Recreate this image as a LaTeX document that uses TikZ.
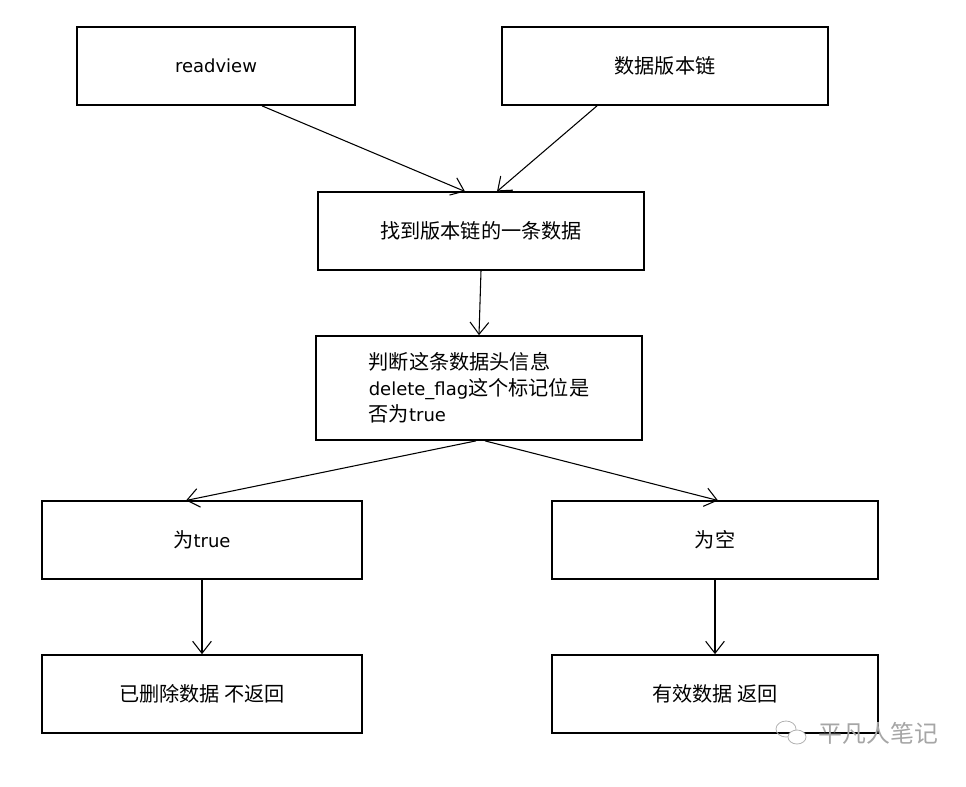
\documentclass[tikz,border=0pt]{standalone}
\usepackage{fontspec}
\setmainfont{DejaVu Sans}
\newfontfamily\cjk[Scale=1.12]{Noto Sans CJK SC}
\usetikzlibrary{arrows.meta,calc}

\begin{document}
\begin{tikzpicture}[x=0.75pt, y=-0.75pt,
    box/.style={draw, line width=1.3pt, font=\fontsize{13.5}{19.5}\selectfont, inner sep=0pt},
    arr/.style={-{Straight Barb[length=9pt,width=14pt]}, line width=0.8pt}]
    \useasboundingbox (0,0) rectangle (966,786);
    % top row
    \node[box, minimum width=208.5pt, minimum height=58.5pt] (rv) at (216,66) {readview};
    \node[box, minimum width=244.5pt, minimum height=58.5pt] (chain) at (665,66) {\cjk 数据版本链};
    \node[box, minimum width=245pt, minimum height=58pt] (find) at (481,231) {\cjk 找到版本链的一条数据};
    \node[box, minimum width=245pt, minimum height=78pt, align=left] (judge) at (479,388)
        {{\cjk 判断这条数据头信息}\\delete\_flag{\cjk 这个标记位是}\\{\cjk 否为}true};
    % two branches
    \node[box, minimum width=240pt, minimum height=58pt] (istrue) at (202,540) {{\cjk 为}true};
    \node[box, minimum width=244pt, minimum height=58pt] (isnull) at (715,540) {\cjk 为空};
    \node[box, minimum width=240pt, minimum height=58.5pt] (deleted) at (202,694) {\cjk 已删除数据 不返回};
    \node[box, minimum width=244pt, minimum height=58.5pt] (valid) at (715,694) {\cjk 有效数据 返回};
    % arrows
    \draw[arr] ($(rv.south)+(46,0)$) -- ($(find.north)+(-16,0)$);
    \draw[arr] ($(chain.south)+(-68,0)$) -- ($(find.north)+(16,0)$);
    \draw[arr] (find.south) -- (judge.north);
    \draw[arr] ($(judge.south)+(-3,0)$) -- ($(istrue.north)+(-16,0)$);
    \draw[arr] ($(judge.south)+(6,0)$) -- ($(isnull.north)+(3,0)$);
    \draw[arr] (istrue.south) -- (deleted.north);
    \draw[arr] (isnull.south) -- (valid.north);
    % watermark
    \draw[gray!60, line width=0.6pt] (786,729) ellipse (10 and 8);
    \draw[gray!60, line width=0.6pt, fill=white] (797,737) ellipse (9 and 7);
    \node[gray!70, font=\fontsize{16}{19}\selectfont\cjk, anchor=west] (mark) at (814,733) {平凡人笔记};
\end{tikzpicture}
\end{document}
